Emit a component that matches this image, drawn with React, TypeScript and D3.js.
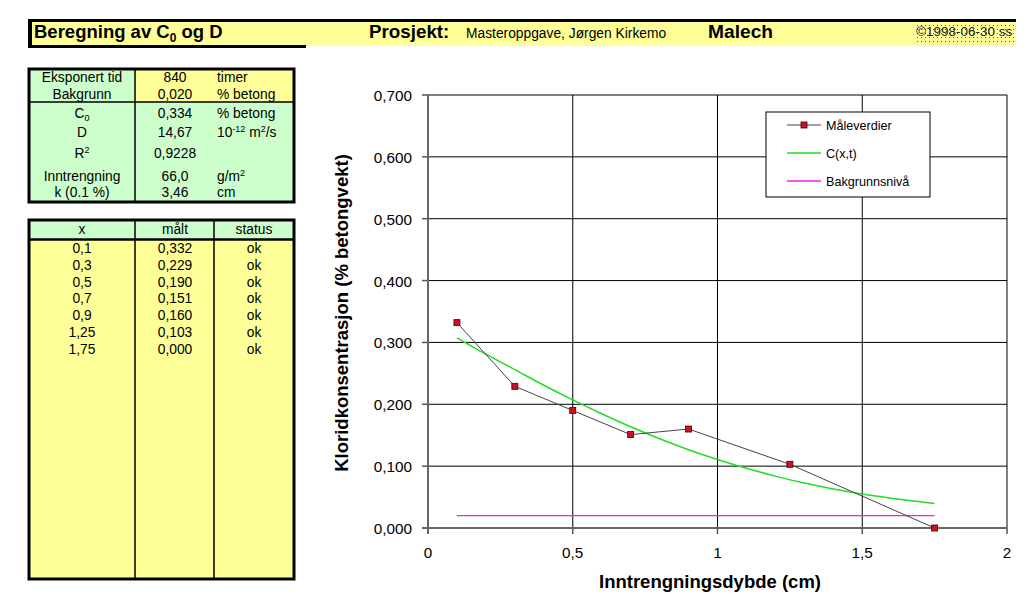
import React from "react";
import * as d3 from "d3";

// ---- Data ----
const measuredX = [0.1, 0.3, 0.5, 0.7, 0.9, 1.25, 1.75];
const measuredY = [0.332, 0.229, 0.19, 0.151, 0.16, 0.103, 0.0];
const measuredXLabels = ["0,1", "0,3", "0,5", "0,7", "0,9", "1,25", "1,75"];
const measuredYLabels = ["0,332", "0,229", "0,190", "0,151", "0,160", "0,103", "0,000"];
const statusLabels = ["ok", "ok", "ok", "ok", "ok", "ok", "ok"];

const fitX = [0.1, 0.2, 0.3, 0.4, 0.5, 0.6, 0.7, 0.8, 0.9, 1.0, 1.1, 1.2, 1.3, 1.4, 1.5, 1.6, 1.7, 1.75];
const fitY = [0.3075, 0.281, 0.256, 0.2308, 0.2071, 0.1847, 0.1636, 0.1443, 0.1266, 0.1108, 0.0965, 0.0839, 0.0726, 0.0632, 0.055, 0.0482, 0.0424, 0.0397];

const bgX = [0.1, 1.75];
const bgY = [0.02, 0.02];

const xTicks = [0, 0.5, 1, 1.5, 2];
const xTickLabels = ["0", "0,5", "1", "1,5", "2"];
const yTicks = [0, 0.1, 0.2, 0.3, 0.4, 0.5, 0.6, 0.7];
const yTickLabels = ["0,000", "0,100", "0,200", "0,300", "0,400", "0,500", "0,600", "0,700"];

const paramLabels = ["Eksponert tid", "Bakgrunn", "C0", "D", "R2", "Inntrengning", "k (0.1 %)"];
const paramValues = ["840", "0,020", "0,334", "14,67", "0,9228", "66,0", "3,46"];
const paramUnits = ["timer", "% betong", "% betong", "D", "", "g/m2", "cm"];

const FONT = "'Liberation Sans', Arial, sans-serif";
const YELLOW = "#ffff99";
const GREEN = "#ccffcc";
const MAGENTA = "#ee22ee";
const LIME = "#22dd22";
const TFS = 13.8;

export default function App() {
  const x = d3.scaleLinear().domain([0, 2]).range([428, 1007]);
  const y = d3.scaleLinear().domain([0, 0.7]).range([528, 95]);

  const line = d3.line<[number, number]>().x((d) => x(d[0])).y((d) => y(d[1]));
  const smooth = d3
    .line<[number, number]>()
    .x((d) => x(d[0]))
    .y((d) => y(d[1]))
    .curve(d3.curveMonotoneX);

  const measured = measuredX.map((v, i) => [v, measuredY[i]] as [number, number]);
  const fit = fitX.map((v, i) => [v, fitY[i]] as [number, number]);
  const bg = bgX.map((v, i) => [v, bgY[i]] as [number, number]);

  const paramRowY = [77, 94, 113, 132, 153, 176, 192];
  const dataRowY0 = 248;
  const dataRowStep = 16.8;

  return (
    <div style={{ position: "absolute", left: 0, top: 0 }}>
      <svg width={1024} height={602} style={{ display: "block", fontFamily: FONT }}>
        <defs>
          <pattern id="dots" width="4" height="4" patternUnits="userSpaceOnUse">
            <rect width="4" height="4" fill={YELLOW} />
            <rect x="1" y="1" width="1" height="1" fill="#555" />
          </pattern>
        </defs>
        <rect width={1024} height={602} fill="#fff" />

        {/* Header */}
        <rect x={29} y={21} width={987} height={25} fill={YELLOW} />
        <rect x={914} y={22} width={102} height={23} fill="url(#dots)" />
        <rect x={28} y={19} width={988} height={3} fill="#000" />
        <rect x={28} y={19} width={4} height={29} fill="#000" />
        <rect x={28} y={45} width={278} height={3} fill="#000" />
        <text x={34} y={38} fontSize={18.5} fontWeight="bold">
          Beregning av C<tspan fontSize={12} dy={4}>0</tspan>
          <tspan dy={-4}> og D</tspan>
        </text>
        <text x={369} y={38} fontSize={18.8} fontWeight="bold">Prosjekt:</text>
        <text x={466} y={38} fontSize={13.8}>Masteroppgave, Jørgen Kirkemo</text>
        <text x={708} y={38} fontSize={19.2} fontWeight="bold">Malech</text>
        <text x={916} y={36} fontSize={13.5} fill="#222">©1998-06-30 ss</text>

        {/* Parameter table */}
        <rect x={29} y={69} width={265} height={133} fill={GREEN} />
        <rect x={135} y={69} width={159} height={33} fill={YELLOW} />
        <line x1={135} y1={68} x2={135} y2={203} stroke="#000" strokeWidth={1.5} />
        <line x1={28} y1={102} x2={294} y2={102} stroke="#000" strokeWidth={1.5} />
        <rect x={29} y={69} width={265} height={133} fill="none" stroke="#000" strokeWidth={3} />
        {paramLabels.map((lab, i) => (
          <g key={"p" + i} fontSize={TFS}>
            <text x={82} y={paramRowY[i] + 5} textAnchor="middle">
              {lab === "C0" ? (
                <>C<tspan fontSize={9} dy={3}>0</tspan></>
              ) : lab === "R2" ? (
                <>R<tspan fontSize={9} dy={-5}>2</tspan></>
              ) : (
                lab
              )}
            </text>
            <text x={175} y={paramRowY[i] + 5} textAnchor="middle">{paramValues[i]}</text>
            <text x={217} y={paramRowY[i] + 5}>
              {paramUnits[i] === "D" ? (
                <>10<tspan fontSize={9} dy={-5}>-12</tspan><tspan dy={5}> m</tspan><tspan fontSize={9} dy={-5}>2</tspan><tspan dy={5}>/s</tspan></>
              ) : paramUnits[i] === "g/m2" ? (
                <>g/m<tspan fontSize={9} dy={-5}>2</tspan></>
              ) : (
                paramUnits[i]
              )}
            </text>
          </g>
        ))}

        {/* Measurement table */}
        <rect x={29} y={220} width={265} height={359} fill={YELLOW} />
        <rect x={29} y={220} width={265} height={19} fill={GREEN} />
        <line x1={28} y1={239.5} x2={294} y2={239.5} stroke="#000" strokeWidth={2.5} />
        <line x1={135} y1={220} x2={135} y2={579} stroke="#000" strokeWidth={1.5} />
        <line x1={214} y1={220} x2={214} y2={579} stroke="#000" strokeWidth={1.5} />
        <rect x={29} y={220} width={265} height={359} fill="none" stroke="#000" strokeWidth={3} />
        <g fontSize={TFS} textAnchor="middle">
          <text x={82} y={234}>x</text>
          <text x={175} y={234}>målt</text>
          <text x={254} y={234}>status</text>
          {measuredXLabels.map((lab, i) => (
            <g key={"m" + i}>
              <text x={82} y={dataRowY0 + i * dataRowStep + 5}>{lab}</text>
              <text x={175} y={dataRowY0 + i * dataRowStep + 5}>{measuredYLabels[i]}</text>
              <text x={254} y={dataRowY0 + i * dataRowStep + 5}>{statusLabels[i]}</text>
            </g>
          ))}
        </g>

        {/* Chart grid */}
        {yTicks.map((t, i) => (
          <g key={"y" + i}>
            {t > 0 && <line x1={x(0)} x2={x(2)} y1={y(t)} y2={y(t)} stroke="#000" strokeWidth={1} />}
            <line x1={x(0) - 6} x2={x(0)} y1={y(t)} y2={y(t)} stroke="#555" strokeWidth={1.5} />
            <text x={412} y={y(t) + 6} fontSize={15.3} textAnchor="end">{yTickLabels[i]}</text>
          </g>
        ))}
        {xTicks.map((t, i) => (
          <g key={"x" + i}>
            {t > 0 && <line x1={x(t)} x2={x(t)} y1={y(0.7)} y2={y(0)} stroke="#000" strokeWidth={1} />}
            <line x1={x(t)} x2={x(t)} y1={y(0)} y2={y(0) + 6} stroke="#555" strokeWidth={1.5} />
            <text x={x(t)} y={558} fontSize={15.3} textAnchor="middle">{xTickLabels[i]}</text>
          </g>
        ))}
        <line x1={x(0)} x2={x(0)} y1={y(0.7)} y2={y(0) + 6} stroke="#666" strokeWidth={2} />
        <line x1={x(0) - 6} x2={x(2)} y1={y(0)} y2={y(0)} stroke="#666" strokeWidth={2} />

        {/* Series */}
        <path d={line(bg) || ""} fill="none" stroke={MAGENTA} strokeWidth={1.3} />
        <path d={smooth(fit) || ""} fill="none" stroke={LIME} strokeWidth={1.5} />
        <path d={line(measured) || ""} fill="none" stroke="#444" strokeWidth={1} />
        {measured.map((d, i) => (
          <rect key={"pt" + i} x={x(d[0]) - 3} y={y(d[1]) - 3} width={6} height={6} fill="#cc1122" stroke="#400" strokeWidth={0.8} />
        ))}

        {/* Legend */}
        <rect x={766} y={112} width={164} height={85} fill="#fff" stroke="#000" strokeWidth={1} />
        <line x1={787} x2={821} y1={125} y2={125} stroke="#444" strokeWidth={1} />
        <rect x={801} y={122} width={6} height={6} fill="#cc1122" stroke="#400" strokeWidth={0.8} />
        <text x={826} y={130} fontSize={12.6}>Måleverdier</text>
        <line x1={787} x2={821} y1={153} y2={153} stroke={LIME} strokeWidth={1.5} />
        <text x={826} y={158} fontSize={12.6}>C(x,t)</text>
        <line x1={787} x2={821} y1={181} y2={181} stroke={MAGENTA} strokeWidth={1.3} />
        <text x={826} y={186} fontSize={12.6}>Bakgrunnsnivå</text>

        {/* Axis titles */}
        <text
          transform={`translate(348, 313) rotate(-90)`}
          fontSize={18.5}
          fontWeight="bold"
          textAnchor="middle"
        >
          Kloridkonsentrasjon (% betongvekt)
        </text>
        <text x={710} y={588} fontSize={18.5} fontWeight="bold" textAnchor="middle">
          Inntrengningsdybde (cm)
        </text>
      </svg>
    </div>
  );
}
